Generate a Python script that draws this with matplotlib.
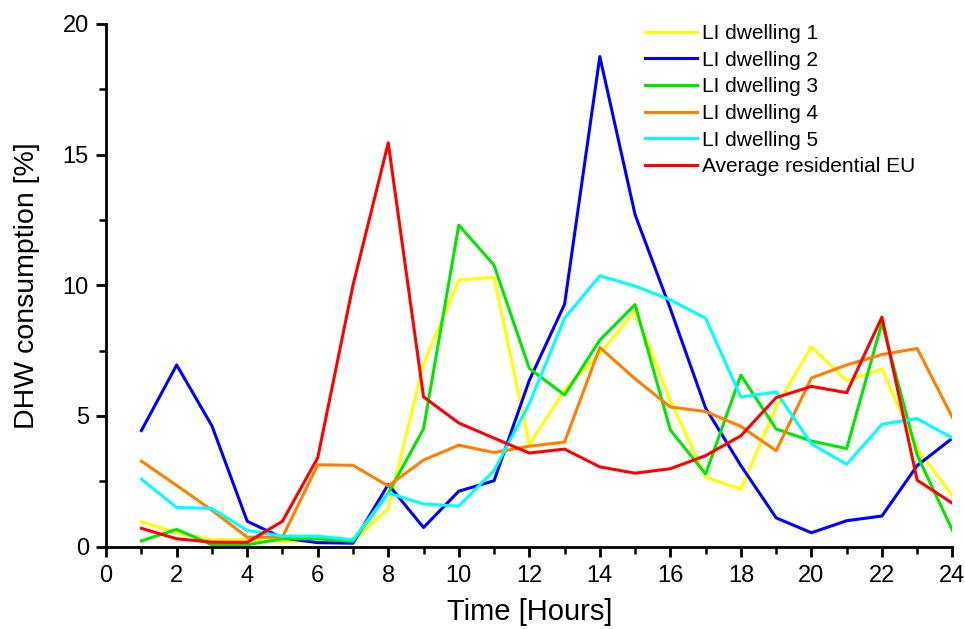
"""Hourly DHW consumption profiles for five LI dwellings vs. the EU average."""

import matplotlib
matplotlib.use("Agg")
import matplotlib.pyplot as plt
from matplotlib.ticker import MultipleLocator

hours = list(range(1, 25))

dwelling_1 = [0.95, 0.53, 0.26, 0.26, 0.2, 0.2, 0.2, 1.45, 7.0, 10.2, 10.3, 3.9,
              6.0, 7.4, 9.0, 5.6, 2.65, 2.2, 5.35, 7.65, 6.35, 6.8, 3.75, 1.95]
dwelling_2 = [4.44, 6.95, 4.62, 0.97, 0.33, 0.15, 0.13, 2.38, 0.73, 2.12, 2.52, 6.36,
              9.27, 18.75, 12.7, 9.1, 5.3, 3.1, 1.1, 0.53, 0.99, 1.17, 3.1, 4.15]
dwelling_3 = [0.22, 0.66, 0.07, 0.07, 0.3, 0.3, 0.2, 2.05, 4.5, 12.3, 10.77, 6.82,
              5.8, 7.9, 9.26, 4.46, 2.78, 6.56, 4.5, 4.04, 3.75, 8.57, 3.5, 0.62]
dwelling_4 = [3.27, 2.34, 1.39, 0.36, 0.36, 3.13, 3.11, 2.32, 3.31, 3.88, 3.6, 3.84,
              4.0, 7.62, 6.42, 5.34, 5.17, 4.6, 3.67, 6.45, 6.95, 7.35, 7.58, 4.94]
dwelling_5 = [2.58, 1.5, 1.46, 0.62, 0.4, 0.4, 0.26, 2.05, 1.63, 1.55, 2.91, 5.47,
              8.74, 10.36, 9.97, 9.44, 8.74, 5.72, 5.92, 3.93, 3.15, 4.68, 4.9, 4.15]
average_eu = [0.7, 0.3, 0.17, 0.16, 0.97, 3.4, 10.0, 15.45, 5.73, 4.73, 4.15, 3.58,
              3.73, 3.05, 2.81, 2.98, 3.48, 4.24, 5.7, 6.13, 5.89, 8.78, 2.54, 1.66]

series = [
    ("LI dwelling 1", dwelling_1, "#FFFF00"),
    ("LI dwelling 2", dwelling_2, "#0000FF"),
    ("LI dwelling 3", dwelling_3, "#00E600"),
    ("LI dwelling 4", dwelling_4, "#FF7F00"),
    ("LI dwelling 5", dwelling_5, "#00FFFF"),
    ("Average residential EU", average_eu, "#FF0000"),
]

plt.rcParams["font.family"] = ["Liberation Sans", "DejaVu Sans"]

fig = plt.figure(figsize=(9.65, 6.29), dpi=100)
ax = fig.add_axes([0.110, 0.131, 0.877, 0.831])

for label, values, color in series:
    ax.plot(hours, values, color=color, lw=2.2, label=label)

ax.set_xlim(0, 24)
ax.set_ylim(0, 20)
ax.xaxis.set_major_locator(MultipleLocator(2))
ax.xaxis.set_minor_locator(MultipleLocator(1))
ax.yaxis.set_major_locator(MultipleLocator(5))
ax.yaxis.set_minor_locator(MultipleLocator(2.5))

for side in ("top", "right"):
    ax.spines[side].set_visible(False)
for side in ("left", "bottom"):
    ax.spines[side].set_linewidth(2)

ax.tick_params(which="major", direction="out", length=7.5, width=2, labelsize=17)
ax.tick_params(axis="x", which="major", pad=6)
ax.tick_params(axis="y", which="major", pad=5)
ax.tick_params(which="minor", direction="out", length=5, width=1.8)

ax.set_xlabel("Time [Hours]", fontsize=21, labelpad=8)
ax.set_ylabel("DHW consumption [%]", fontsize=20.5, labelpad=16)

ax.legend(loc="upper left", bbox_to_anchor=(0.668, 0.962),
          bbox_transform=fig.transFigure, frameon=False,
          fontsize=15, handlelength=2.5, handletextpad=0.25, labelspacing=0.37,
          borderpad=0, borderaxespad=0)

fig.savefig("out.png", dpi=100)
